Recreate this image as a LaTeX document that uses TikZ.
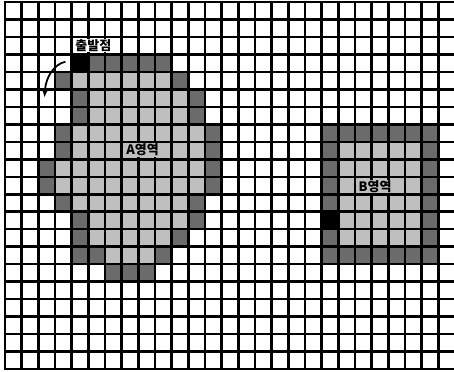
\documentclass[tikz,border=0pt]{standalone}
\usepackage{fontspec}
\newfontfamily\kofont{Noto Sans CJK KR}
\usetikzlibrary{arrows.meta}

\begin{document}
\begin{tikzpicture}[
  x=16.67bp, y=-17.48bp,
  gridline/.style={line width=2.5bp, line cap=rect},
  lightcell/.style={fill=black!25},
  darkcell/.style={fill=black!58},
  startcell/.style={fill=black},
  lbl/.style={font=\kofont\bfseries\fontsize{13}{14}\selectfont, inner sep=0.6pt},
  arr/.style={-{Latex[length=3mm,width=2.4mm]}, line width=1.8bp}
]
\useasboundingbox (-0.3,-0.114) rectangle (26.935,21.167);

% region A
\fill[startcell] (4,3) rectangle (5,4);
\fill[darkcell] (5,3) rectangle (10,4);
\foreach \r/\a/\b in {4/4/9,5/5/10,6/5/10,7/4/11,8/4/11,9/3/11,10/3/11,
                      11/4/10,12/5/10,13/5/9,14/6/8} {
  \fill[lightcell] (\a,\r) rectangle (\b+1,\r+1);
  \fill[darkcell] (\a-1,\r) rectangle (\a,\r+1);
  \fill[darkcell] (\b+1,\r) rectangle (\b+2,\r+1);
}
\fill[darkcell] (4,14) rectangle (5,15);
\fill[darkcell] (6,15) rectangle (9,16);

% region B
\fill[darkcell] (19,7) rectangle (26,15);
\fill[lightcell] (20,8) rectangle (25,14);
\fill[startcell] (19,12) rectangle (20,13);

% grid
\foreach \c in {0,...,26}
  \draw[gridline] (\c,0) -- (\c,21);
\foreach \r in {0,...,21}
  \draw[gridline] (0,\r) -- (26.935,\r);

\node[lbl, fill=white] (start) at (5.3,2.48) {출발점};
\node[lbl, fill=black!25] (areaA) at (8.25,8.47) {A영역};
\node[lbl, fill=black!25] (areaB) at (22.2,10.55) {B영역};

\coordinate (turnfrom) at (3.62,3.42);
\coordinate (turnto) at (2.37,5.48);
\draw[arr] (turnfrom) .. controls (2.95,3.55) and (2.45,4.3) .. (turnto);
\end{tikzpicture}
\end{document}
